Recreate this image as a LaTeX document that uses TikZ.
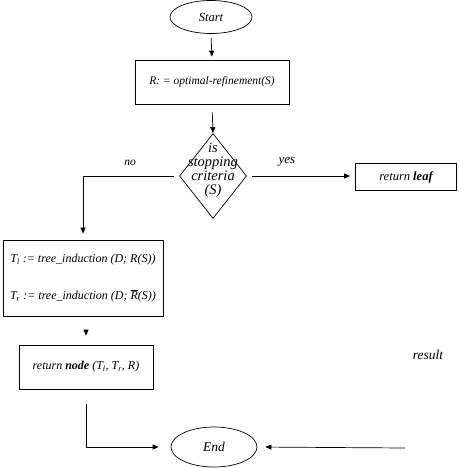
\documentclass[tikz,border=0pt]{standalone}
\usepackage{fontspec}
\setmainfont{Liberation Serif}
\usetikzlibrary{arrows.meta,positioning,shapes.geometric}

\begin{document}
\begin{tikzpicture}[
  x=1pt, y=-1pt,
  font=\fontsize{11.5}{13}\selectfont\itshape,
  line width=0.7pt,
  box/.style={draw, rectangle, align=center, inner sep=2pt},
  term/.style={draw, ellipse, minimum width=82pt, minimum height=33pt, inner sep=0pt,
               font=\fontsize{12.5}{14}\selectfont\itshape},
  dec/.style={draw, diamond, minimum width=67pt, minimum height=85pt, inner sep=0pt},
  fl/.style={-{Triangle[length=6pt, width=5pt]}},
]
\useasboundingbox (0,0) rectangle (458,468);

% ---------- top ----------
\node[term] (start) at (211,17) {Start};
\node[box, minimum width=154pt, minimum height=44pt] (refine) at (212,82) {R: = optimal-refinement(S)};
\node[dec] (crit) at (213,176) {};
\node[align=center, inner sep=0pt, font=\fontsize{14.5}{14}\selectfont\itshape] (critlbl) at (213,170) {is\\stopping\\criteria\\(S)};
\node[box, minimum width=101pt, minimum height=27pt, font=\fontsize{12.5}{14}\selectfont\itshape] (leaf) at (406,177) {return \textbf{leaf}};

% ---------- no branch ----------
\node[box, minimum width=160pt, minimum height=76pt, font=\fontsize{12}{13}\selectfont\itshape] (tind) at (83,278)
  {T\textsubscript{l} := tree\_induction (D; R(S))\\[24pt]
   T\textsubscript{r} := tree\_induction (D; $\overline{\mbox{R}}$(S))};
\node[box, minimum width=134pt, minimum height=44pt, font=\fontsize{12}{13}\selectfont\itshape] (rnode) at (86,367)
  {return \textbf{node} (T\textsubscript{l}, T\textsubscript{r}, R)};

% ---------- bottom ----------
\node[term, minimum width=86pt, minimum height=40pt, font=\fontsize{13.5}{14}\selectfont\itshape] (end) at (214,447) {End};
\coordinate (resin) at (405,448);
\node[font=\fontsize{13.5}{14}\selectfont\itshape] (res) at (428,355) {result};

\node (nolbl) at (130,163) {no};
\node[font=\fontsize{13}{14}\selectfont\itshape] (yeslbl) at (287,162) {yes};

\draw[fl, shorten <=4pt, shorten >=3pt] (start.south) -- (refine.north);
\draw[fl, shorten <=8pt] (refine.south) -- (crit.north);
\draw[fl, shorten <=5pt, shorten >=6pt] (crit.west) -| (tind.north);
\draw[fl, shorten <=5pt, shorten >=5pt] (crit.east) -- (crit.east -| leaf.west);
\draw[fl, shorten <=17pt, shorten >=9pt] (rnode.north |- tind.south) -- (rnode.north);
\draw[fl, shorten <=15pt, shorten >=12pt] (rnode.south) |- (end.west);
\draw[fl, shorten >=8pt] (resin) -- (end.east);

\end{tikzpicture}
\end{document}
